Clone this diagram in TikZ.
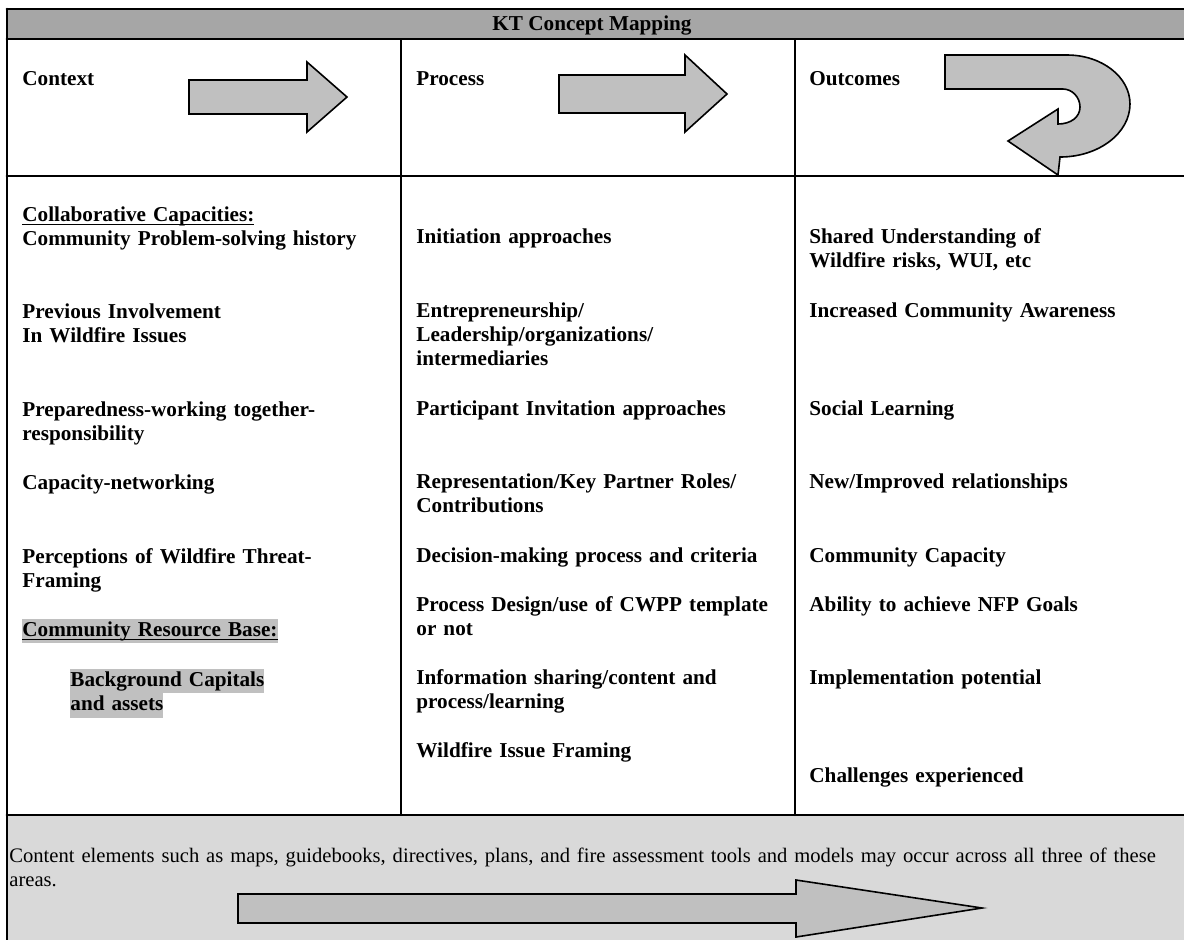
\documentclass[tikz,border=0pt]{standalone}
\usepackage{fontspec}
\setmainfont{Liberation Serif}
\definecolor{bandgray}{HTML}{A6A6A6}
\definecolor{arrowgray}{HTML}{C0C0C0}
\definecolor{notegray}{HTML}{D9D9D9}
\setlength{\fboxsep}{0pt}
\newcommand{\shade}[1]{\colorbox{arrowgray}{\strut #1}}
\newcommand{\ulined}[1]{\setbox0\hbox{#1}\rlap{\rule[-2.2pt]{\wd0}{0.9pt}}\box0}
\tikzset{
  item/.style={anchor=base west, inner sep=0pt, text width=185pt, align=left,
    font=\fontsize{10.6}{12.2}\selectfont\bfseries},
  bigarrow/.style={draw, fill=arrowgray, line width=0.8pt, line join=miter},
}
\begin{document}
\begin{tikzpicture}[x=0.5pt,y=-0.5pt,line join=round,line cap=round]
	\clip (0,0) rectangle (1184,939);
	\fill[white] (0,0) rectangle (1184,939);
	\coordinate (TL) at (7,9);
	\coordinate (TR) at (1190,9);
	\coordinate (HL) at (7,39);
	\coordinate (HR) at (1190,39);
	\coordinate (RL) at (7,176);
	\coordinate (RR) at (1190,176);
	\coordinate (NL) at (7,815);
	\coordinate (NR) at (1190,815);
	\coordinate (BL) at (7,950);
	\coordinate (BR) at (1190,950);
	\coordinate (P) at (401,39);
	\coordinate (Q) at (401,815);
	\coordinate (S) at (795,39);
	\coordinate (T) at (795,815);
	\fill[bandgray] (TL) rectangle (HR);
	\fill[notegray] (NL) rectangle (BR);
	\draw[line width=1.4pt] (TL)--(TR) (HL)--(HR) (RL)--(RR) (NL)--(NR);
	\draw[line width=1.3pt] (TL)--(BL) (TR)--(BR);
	\draw[line width=1pt] (P)--(Q) (S)--(T);
	% arrows
	\draw[bigarrow] (189,80)--(307,80)--(307,62)--(347,97)--(307,132)--(307,114)--(189,114)--cycle;
	\draw[bigarrow] (559,75)--(685,75)--(685,55)--(727,94)--(685,132)--(685,113)--(559,113)--cycle;
	\draw[bigarrow] (945,55)--(1067,55) .. controls (1102,55) and (1130,77) .. (1130,104)
		.. controls (1130,133) and (1099,157) .. (1060,157)--(1058,175)--(1008,141)--(1058,109)--(1058,124)
		.. controls (1071,124) and (1080,117) .. (1080,107) .. controls (1080,97) and (1072,89) .. (1063,89)
		--(945,89)--cycle;
	\draw[bigarrow] (238,894)--(796,894)--(796,880)--(982,908)--(796,937)--(796,923)--(238,923)--cycle;
	% header
	\node[item, anchor=base, text width=] (title) at (592,30) {KT Concept Mapping};
	\node[item] (context) at (22,85) {Context};
	\node[item] (process) at (416,85) {Process};
	\node[item] (outcomes) at (809,85) {Outcomes};
	% context column
	\node[item] (c1) at (22,221) {\ulined{Collaborative Capacities:}\\Community Problem-solving history};
	\node[item] (c2) at (22,318) {Previous Involvement\\In Wildfire Issues};
	\node[item] (c3) at (22,416) {Preparedness-working together-\\responsibility};
	\node[item] (c4) at (22,489) {Capacity-networking};
	\node[item] (c5) at (22,563) {Perceptions of Wildfire Threat-\\Framing};
	\node[item] (c6) at (22,636) {\shade{\ulined{Community Resource Base:}}};
	\node[item] (c7) at (70,686) {\shade{Background Capitals}\\\shade{and assets}};
	% process column
	\node[item] (p1) at (416,243) {Initiation approaches};
	\node[item] (p2) at (416,317) {Entrepreneurship/\\Leadership/organizations/\\intermediaries};
	\node[item] (p3) at (416,415) {Participant Invitation approaches};
	\node[item] (p4) at (416,488) {Representation/Key Partner Roles/\\Contributions};
	\node[item] (p5) at (416,562) {Decision-making process and criteria};
	\node[item] (p6) at (416,611) {Process Design/use of CWPP template\\or not};
	\node[item] (p7) at (416,684) {Information sharing/content and\\process/learning};
	\node[item] (p8) at (416,757) {Wildfire Issue Framing};
	% outcomes column
	\node[item] (o1) at (809,243) {Shared Understanding of\\Wildfire risks, WUI, etc};
	\node[item] (o2) at (809,317) {Increased Community Awareness};
	\node[item] (o3) at (809,415) {Social Learning};
	\node[item] (o4) at (809,488) {New/Improved relationships};
	\node[item] (o5) at (809,562) {Community Capacity};
	\node[item] (o6) at (809,611) {Ability to achieve NFP Goals};
	\node[item] (o7) at (809,684) {Implementation potential};
	\node[item] (o8) at (809,782) {Challenges experienced};
	% note row
	\node[item, text width=590pt, font=\fontsize{10.3}{12}\selectfont] (note) at (9,862)
		{Content elements such as maps, guidebooks, directives, plans, and fire assessment tools and models may occur across all three of these\\areas.};
\end{tikzpicture}
\end{document}
